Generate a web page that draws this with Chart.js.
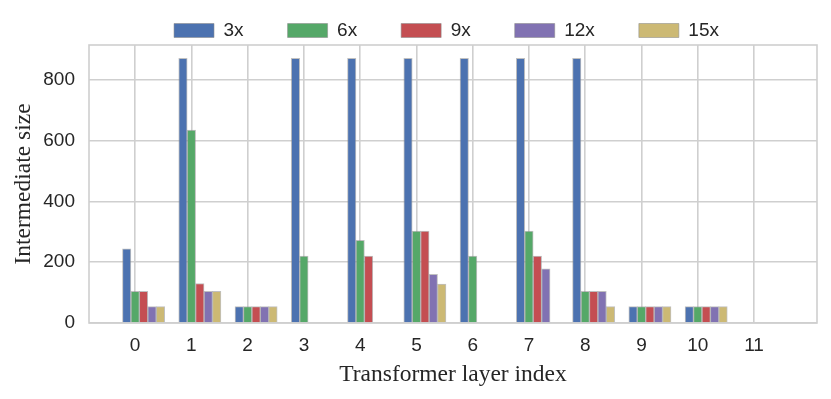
<!DOCTYPE html>
<html>
<head>
<meta charset="utf-8">
<script src="https://cdn.jsdelivr.net/npm/chart.js@4"></script>
<style>
  html, body { margin: 0; padding: 0; background: #fff; }
  #wrap { width: 831px; height: 399px; }
</style>
</head>
<body>
<div id="wrap"><canvas id="chart" width="831" height="399"></canvas></div>
<script>
// layer index on the x axis
const layers = [0, 1, 2, 3, 4, 5, 6, 7, 8, 9, 10, 11];
const yTicks = [0, 200, 400, 600, 800];

// intermediate size per layer, one array per expansion ratio (null = no bar)
const size3x  = [244, 870, 54, 870, 870, 870, 870, 870, 870, 54, 54, null];
const size6x  = [104, 634, 54, 220, 272, 302, 220, 302, 104, 54, 54, null];
const size9x  = [104, 130, 54, null, 220, 302, null, 220, 104, 54, 54, null];
const size12x = [54, 104, 54, null, null, 160, null, 178, 104, 54, 54, null];
const size15x = [54, 104, 54, null, null, 128, null, null, 54, 54, 54, null];

const seriesNames = ["3x", "6x", "9x", "12x", "15x"];
const seriesData = [size3x, size6x, size9x, size12x, size15x];
const colors = ["#4C72B0", "#55A868", "#C44E52", "#8172B2", "#CCB974"];
const barShift = [-0.15, 0, 0.15, 0.3, 0.45];   // bar offsets inside a group, in layer units

const ink = "#262626";
const gridColor = "#cfcfcf";
const sans = "'Liberation Sans', Arial, sans-serif";
const serif = "'Liberation Serif', 'Times New Roman', serif";

// frame around the plot (matplotlib spines)
const frame = {
  id: "frame",
  afterDatasetsDraw(chart) {
    const { ctx, chartArea: a } = chart;
    ctx.save();
    ctx.strokeStyle = gridColor;
    ctx.lineWidth = 1.6;
    ctx.strokeRect(a.left, a.top, a.right - a.left, a.bottom - a.top);
    ctx.restore();
  },
};

// fixed legend height, then nudge it to sit centred over the plot
const legendBox = {
  id: "legendBox",
  beforeLayout(chart) {
    const lg = chart.legend;
    if (!lg || lg._patched) return;
    const fit = lg.fit;
    lg.fit = function () { fit.call(this); this.height = 45; };
    lg._patched = true;
  },
  afterLayout(chart) {
    const lg = chart.legend;
    lg.left += 38; lg.right += 38;
    lg.top -= 23;
  },
};

const datasets = seriesNames.map((name, k) => ({
  label: name,
  data: layers.map((l, i) => ({ x: l + barShift[k], y: seriesData[k][i] })),
  backgroundColor: colors[k],
  borderColor: "rgba(140,140,140,0.55)",
  borderWidth: 1,
  borderSkipped: "bottom",
  grouped: false,
  barPercentage: 1,
  categoryPercentage: 1,
}));

new Chart(document.getElementById("chart"), {
  type: "bar",
  data: { datasets },
  plugins: [frame, legendBox],
  options: {
    responsive: false,
    animation: false,
    layout: { padding: { left: 0, right: 14, top: 0, bottom: 0 } },
    plugins: {
      tooltip: { enabled: false },
      legend: {
        position: "top",
        labels: {
          boxWidth: 40, boxHeight: 14, padding: 44, color: ink,
          font: { family: sans, size: 19 },
        },
      },
    },
    scales: {
      x: {
        type: "linear",
        offset: false,
        min: -0.82, max: 12.12,
        afterBuildTicks: (s) => { s.ticks = layers.map((v) => ({ value: v })); },
        afterFit: (s) => { s.height = 76; },
        ticks: {
          color: ink, padding: 11, autoSkip: false, maxRotation: 0,
          font: { family: sans, size: 19 },
          callback: (v) => String(v),
        },
        grid: { color: gridColor, lineWidth: 1.6, drawTicks: false, offset: false },
        border: { display: false },
        title: {
          display: true, text: "Transformer layer index", color: ink,
          font: { family: serif, size: 23.5 },
          padding: { top: 0, bottom: 10 },
        },
      },
      y: {
        min: 0, max: 914,
        afterBuildTicks: (s) => { s.ticks = yTicks.map((v) => ({ value: v })); },
        afterFit: (s) => { s.width = 89; },
        ticks: {
          color: ink, padding: 14,
          font: { family: sans, size: 19 },
        },
        grid: { color: gridColor, lineWidth: 1.6, drawTicks: false },
        border: { display: false },
        title: {
          display: true, text: "Intermediate size", color: ink,
          font: { family: serif, size: 23.5 },
          padding: { top: 10, bottom: 0 },
        },
      },
    },
  },
});
</script>
</body>
</html>
